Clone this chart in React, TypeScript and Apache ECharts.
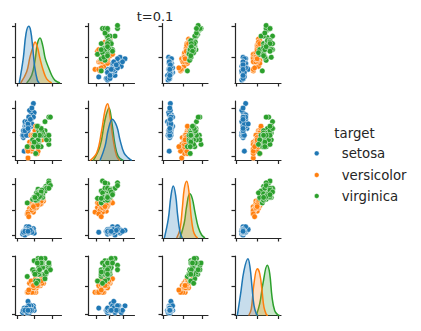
import React, { useEffect, useRef } from "react";
import * as echarts from "echarts";

// ---------- data (iris) ----------
const SPECIES = ["setosa", "versicolor", "virginica"];
const SPECIES_COUNTS = [50, 50, 50];
const TITLE = "t=0.1";
const LEGEND_TITLE = "target";

const sepalLength = [
  5.1, 4.9, 4.7, 4.6, 5.0, 5.4, 4.6, 5.0, 4.4, 4.9, 5.4, 4.8, 4.8, 4.3, 5.8, 5.7, 5.4, 5.1, 5.7, 5.1,
  5.4, 5.1, 4.6, 5.1, 4.8, 5.0, 5.0, 5.2, 5.2, 4.7, 4.8, 5.4, 5.2, 5.5, 4.9, 5.0, 5.5, 4.9, 4.4, 5.1,
  5.0, 4.5, 4.4, 5.0, 5.1, 4.8, 5.1, 4.6, 5.3, 5.0,
  7.0, 6.4, 6.9, 5.5, 6.5, 5.7, 6.3, 4.9, 6.6, 5.2, 5.0, 5.9, 6.0, 6.1, 5.6, 6.7, 5.6, 5.8, 6.2, 5.6,
  5.9, 6.1, 6.3, 6.1, 6.4, 6.6, 6.8, 6.7, 6.0, 5.7, 5.5, 5.5, 5.8, 6.0, 5.4, 6.0, 6.7, 6.3, 5.6, 5.5,
  5.5, 6.1, 5.8, 5.0, 5.6, 5.7, 5.7, 6.2, 5.1, 5.7,
  6.3, 5.8, 7.1, 6.3, 6.5, 7.6, 4.9, 7.3, 6.7, 7.2, 6.5, 6.4, 6.8, 5.7, 5.8, 6.4, 6.5, 7.7, 7.7, 6.0,
  6.9, 5.6, 7.7, 6.3, 6.7, 7.2, 6.2, 6.1, 6.4, 7.2, 7.4, 7.9, 6.4, 6.3, 6.1, 7.7, 6.3, 6.4, 6.0, 6.9,
  6.7, 6.9, 5.8, 6.8, 6.7, 6.7, 6.3, 6.5, 6.2, 5.9,
];
const sepalWidth = [
  3.5, 3.0, 3.2, 3.1, 3.6, 3.9, 3.4, 3.4, 2.9, 3.1, 3.7, 3.4, 3.0, 3.0, 4.0, 4.4, 3.9, 3.5, 3.8, 3.8,
  3.4, 3.7, 3.6, 3.3, 3.4, 3.0, 3.4, 3.5, 3.4, 3.2, 3.1, 3.4, 4.1, 4.2, 3.1, 3.2, 3.5, 3.6, 3.0, 3.4,
  3.5, 2.3, 3.2, 3.5, 3.8, 3.0, 3.8, 3.2, 3.7, 3.3,
  3.2, 3.2, 3.1, 2.3, 2.8, 2.8, 3.3, 2.4, 2.9, 2.7, 2.0, 3.0, 2.2, 2.9, 2.9, 3.1, 3.0, 2.7, 2.2, 2.5,
  3.2, 2.8, 2.5, 2.8, 2.9, 3.0, 2.8, 3.0, 2.9, 2.6, 2.4, 2.4, 2.7, 2.7, 3.0, 3.4, 3.1, 2.3, 3.0, 2.5,
  2.6, 3.0, 2.6, 2.3, 2.7, 3.0, 2.9, 2.9, 2.5, 2.8,
  3.3, 2.7, 3.0, 2.9, 3.0, 3.0, 2.5, 2.9, 2.5, 3.6, 3.2, 2.7, 3.0, 2.5, 2.8, 3.2, 3.0, 3.8, 2.6, 2.2,
  3.2, 2.8, 2.8, 2.7, 3.3, 3.2, 2.8, 3.0, 2.8, 3.0, 2.8, 3.8, 2.8, 2.8, 2.6, 3.0, 3.4, 3.1, 3.0, 3.1,
  3.1, 3.1, 2.7, 3.2, 3.3, 3.0, 2.5, 3.0, 3.4, 3.0,
];
const petalLength = [
  1.4, 1.4, 1.3, 1.5, 1.4, 1.7, 1.4, 1.5, 1.4, 1.5, 1.5, 1.6, 1.4, 1.1, 1.2, 1.5, 1.3, 1.4, 1.7, 1.5,
  1.7, 1.5, 1.0, 1.7, 1.9, 1.6, 1.6, 1.5, 1.4, 1.6, 1.6, 1.5, 1.5, 1.4, 1.5, 1.2, 1.3, 1.4, 1.3, 1.5,
  1.3, 1.3, 1.3, 1.6, 1.9, 1.4, 1.6, 1.4, 1.5, 1.4,
  4.7, 4.5, 4.9, 4.0, 4.6, 4.5, 4.7, 3.3, 4.6, 3.9, 3.5, 4.2, 4.0, 4.7, 3.6, 4.4, 4.5, 4.1, 4.5, 3.9,
  4.8, 4.0, 4.9, 4.7, 4.3, 4.4, 4.8, 5.0, 4.5, 3.5, 3.8, 3.7, 3.9, 5.1, 4.5, 4.5, 4.7, 4.4, 4.1, 4.0,
  4.4, 4.6, 4.0, 3.3, 4.2, 4.2, 4.2, 4.3, 3.0, 4.1,
  6.0, 5.1, 5.9, 5.6, 5.8, 6.6, 4.5, 6.3, 5.8, 6.1, 5.1, 5.3, 5.5, 5.0, 5.1, 5.3, 5.5, 6.7, 6.9, 5.0,
  5.7, 4.9, 6.7, 4.9, 5.7, 6.0, 4.8, 4.9, 5.6, 5.8, 6.1, 6.4, 5.6, 5.1, 5.6, 6.1, 5.6, 5.5, 4.8, 5.4,
  5.6, 5.1, 5.1, 5.9, 5.7, 5.2, 5.0, 5.2, 5.4, 5.1,
];
const petalWidth = [
  0.2, 0.2, 0.2, 0.2, 0.2, 0.4, 0.3, 0.2, 0.2, 0.1, 0.2, 0.2, 0.1, 0.1, 0.2, 0.4, 0.4, 0.3, 0.3, 0.3,
  0.2, 0.4, 0.2, 0.5, 0.2, 0.2, 0.4, 0.2, 0.2, 0.2, 0.2, 0.4, 0.1, 0.2, 0.2, 0.2, 0.2, 0.1, 0.2, 0.2,
  0.3, 0.3, 0.2, 0.6, 0.4, 0.3, 0.2, 0.2, 0.2, 0.2,
  1.4, 1.5, 1.5, 1.3, 1.5, 1.3, 1.6, 1.0, 1.3, 1.4, 1.0, 1.5, 1.0, 1.4, 1.3, 1.4, 1.5, 1.0, 1.5, 1.1,
  1.8, 1.3, 1.5, 1.2, 1.3, 1.4, 1.4, 1.7, 1.5, 1.0, 1.1, 1.0, 1.2, 1.6, 1.5, 1.6, 1.5, 1.3, 1.3, 1.3,
  1.2, 1.4, 1.2, 1.0, 1.3, 1.2, 1.3, 1.3, 1.1, 1.3,
  2.5, 1.9, 2.1, 1.8, 2.2, 2.1, 1.7, 1.8, 1.8, 2.5, 2.0, 1.9, 2.1, 2.0, 2.4, 2.3, 1.8, 2.2, 2.3, 1.5,
  2.3, 2.0, 2.0, 1.8, 2.1, 1.8, 1.8, 1.8, 2.1, 1.6, 1.9, 2.0, 2.2, 1.5, 1.4, 2.3, 2.4, 1.8, 1.8, 2.1,
  2.4, 2.3, 1.9, 2.3, 2.5, 2.3, 1.9, 2.0, 2.3, 1.8,
];

// density curves on the diagonal: [value, relative density]
const kdeSL_setosa = [[3.87, 0], [4.39, 0.42], [4.74, 0.83], [5.09, 0.955], [5.35, 0.88], [5.61, 0.6], [5.87, 0.27], [6.21, 0.045], [6.46, 0]];
const kdeSL_versicolor = [[4.05, 0], [4.83, 0.19], [5.26, 0.44], [5.69, 0.63], [5.91, 0.69], [6.21, 0.61], [6.56, 0.41], [6.98, 0.21], [7.42, 0.07], [8.07, 0]];
const kdeSL_virginica = [[4.83, 0], [5.48, 0.13], [5.91, 0.38], [6.21, 0.66], [6.56, 0.76], [6.91, 0.63], [7.24, 0.41], [7.63, 0.27], [8.07, 0.13], [8.5, 0.045], [9.15, 0]];
const kdeSW_setosa = [[2.4, 0], [2.8, 0.24], [3.06, 0.52], [3.38, 0.7], [3.74, 0.58], [4.0, 0.35], [4.32, 0.13], [4.66, 0.045], [4.94, 0]];
const kdeSW_versicolor = [[1.6, 0], [2.14, 0.13], [2.54, 0.52], [2.8, 0.85], [3.01, 0.96], [3.2, 0.75], [3.46, 0.35], [3.74, 0.07], [4.0, 0]];
const kdeSW_virginica = [[1.86, 0], [2.4, 0.24], [2.8, 0.69], [3.12, 0.89], [3.34, 0.66], [3.6, 0.27], [3.86, 0.07], [4.26, 0]];
const kdePL_setosa = [[0.44, 0], [1.14, 0.32], [1.61, 0.71], [2.02, 0.87], [2.44, 0.71], [2.79, 0.38], [3.2, 0.1], [3.6, 0]];
const kdePL_versicolor = [[2.62, 0], [3.2, 0.15], [3.6, 0.49], [3.96, 0.83], [4.38, 0.95], [4.78, 0.77], [5.14, 0.38], [5.54, 0.12], [5.96, 0.03], [6.32, 0]];
const kdePL_virginica = [[3.2, 0], [3.96, 0.26], [4.38, 0.54], [4.91, 0.74], [5.37, 0.66], [5.84, 0.43], [6.42, 0.18], [7.02, 0.05], [7.6, 0]];
const kdePW_setosa = [[-0.25, 0], [0.01, 0.37], [0.27, 0.76], [0.58, 0.96], [0.74, 0.82], [0.9, 0.48], [1.05, 0.17], [1.23, 0.03], [1.36, 0]];
const kdePW_versicolor = [[0.64, 0], [0.84, 0.11], [1.05, 0.54], [1.31, 0.79], [1.5, 0.71], [1.68, 0.42], [1.83, 0.14], [2.01, 0.02], [2.14, 0]];
const kdePW_virginica = [[1.23, 0], [1.5, 0.2], [1.75, 0.54], [2.09, 0.85], [2.28, 0.71], [2.46, 0.31], [2.67, 0.08], [2.92, 0.01], [3.06, 0]];

// axis ranges (column = x variable, row = y variable), and tick positions
const X_RANGES = [[3.38, 9.34], [1.48, 5.16], [0.03, 8.13], [-0.43, 3.16]];
const X_TICKS = [[3.67, 5.84, 8.12], [2.08, 3.14, 4.22], [0.26, 3.78, 7.19], [-0.33, 1.31, 2.93]];
const Y_RANGES = [[4.1, 8.03], [1.89, 4.51], [0.67, 7.17], [-0.03, 2.61]];
const Y_TICKS = [[5.77, 7.87], [2.07, 3.14, 4.19], [0.96, 3.65, 6.54], [0.01, 1.29, 2.58]];

// ---------- style / layout ----------
const COLORS = ["#1f77b4", "#ff7f0e", "#2ca02c"];
const INK = "#262626";
const FONT = "'DejaVu Sans', sans-serif";
const COL_LEFT = [15.5, 88.5, 162, 235];
const ROW_TOP = [23.5, 101, 178.5, 256];
const CELL_W = 46;
const CELL_H = 59.5;

function buildOption() {
  const vars = [sepalLength, sepalWidth, petalLength, petalWidth];
  const kdes = [
    [kdeSL_setosa, kdeSL_versicolor, kdeSL_virginica],
    [kdeSW_setosa, kdeSW_versicolor, kdeSW_virginica],
    [kdePL_setosa, kdePL_versicolor, kdePL_virginica],
    [kdePW_setosa, kdePW_versicolor, kdePW_virginica],
  ];
  const starts: number[] = [];
  let acc = 0;
  for (const c of SPECIES_COUNTS) {
    starts.push(acc);
    acc += c;
  }
  const slice = (arr: number[], s: number) => arr.slice(starts[s], starts[s] + SPECIES_COUNTS[s]);

  const grid: any[] = [];
  const xAxis: any[] = [];
  const yAxis: any[] = [];
  const series: any[] = [];
  const axisLine = { show: true, onZero: false, lineStyle: { color: INK, width: 1.2 } };
  const tickStyle = { color: INK, width: 1.2 };

  for (let r = 0; r < 4; r++) {
    for (let c = 0; c < 4; c++) {
      const gi = grid.length;
      grid.push({ left: COL_LEFT[c], top: ROW_TOP[r], width: CELL_W, height: CELL_H, show: false, containLabel: false, outerBoundsMode: "none" });
      const xi = xAxis.length;
      xAxis.push({
        type: "value", gridIndex: gi, min: X_RANGES[c][0], max: X_RANGES[c][1],
        axisLine, axisTick: { show: true, inside: false, length: 3.5, customValues: X_TICKS[c], lineStyle: tickStyle },
        axisLabel: { show: false }, splitLine: { show: false },
      });
      const yi = yAxis.length;
      yAxis.push({
        type: "value", gridIndex: gi, min: Y_RANGES[r][0], max: Y_RANGES[r][1], position: "left",
        axisLine, axisTick: { show: true, inside: false, length: 3.5, customValues: Y_TICKS[r], lineStyle: tickStyle },
        axisLabel: { show: false }, splitLine: { show: false },
      });
      if (r === c) {
        const curves = kdes[c];
        let dmax = 0;
        curves.forEach((cv) => cv.forEach((p) => { if (p[1] > dmax) dmax = p[1]; }));
        const di = yAxis.length;
        yAxis.push({ type: "value", gridIndex: gi, min: 0, max: dmax * 1.05, show: false, position: "right" });
        for (let s = SPECIES.length - 1; s >= 0; s--) {
          series.push({
            type: "line", name: SPECIES[s], xAxisIndex: xi, yAxisIndex: di, data: curves[s],
            showSymbol: false, symbol: "none", silent: true, smooth: 0.4,
            lineStyle: { color: COLORS[s], width: 1.5 },
            areaStyle: { color: COLORS[s], opacity: 0.25 },
            z: 2 + (SPECIES.length - 1 - s),
          });
        }
      } else {
        SPECIES.forEach((name, s) => {
          const xs = slice(vars[c], s);
          const ys = slice(vars[r], s);
          series.push({
            type: "scatter", name, xAxisIndex: xi, yAxisIndex: yi,
            data: xs.map((x, i) => [x, ys[i]]),
            symbol: "circle", symbolSize: 5.6, silent: true,
            itemStyle: { color: COLORS[s], borderColor: "#ffffff", borderWidth: 0.5, opacity: 1 },
            z: 2 + s,
          });
        });
      }
    }
  }

  const legendY = [153.3, 175, 196];
  const graphic: any[] = [
    { type: "text", x: 155, y: 16, style: { text: TITLE, font: `13px ${FONT}`, fill: INK, align: "center", verticalAlign: "middle" } },
    { type: "text", x: 334.3, y: 133.3, style: { text: LEGEND_TITLE, font: `13.3px ${FONT}`, fill: INK, align: "left", verticalAlign: "middle" } },
  ];
  SPECIES.forEach((name, s) => {
    graphic.push({ type: "circle", shape: { cx: 316.7, cy: legendY[s], r: 2.4 }, style: { fill: COLORS[s], stroke: "#ffffff", lineWidth: 0.4 } });
    graphic.push({ type: "text", x: 341.7, y: legendY[s], style: { text: name, font: `13.3px ${FONT}`, fill: INK, align: "left", verticalAlign: "middle" } });
  });

  return { animation: false, backgroundColor: "#ffffff", grid, xAxis, yAxis, series, graphic };
}

export default function App() {
  const ref = useRef<HTMLDivElement | null>(null);
  useEffect(() => {
    if (!ref.current) return;
    const chart = echarts.init(ref.current, undefined, { renderer: "svg" });
    chart.setOption(buildOption() as any);
    return () => chart.dispose();
  }, []);
  return <div ref={ref} style={{ position: "fixed", left: 0, top: 0, width: 421, height: 331 }} />;
}
